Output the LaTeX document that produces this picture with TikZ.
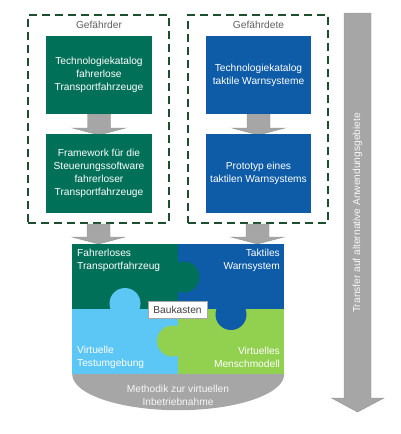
\documentclass[tikz,border=0pt]{standalone}
\usepackage{fontspec}
\setmainfont{Liberation Sans}
\usetikzlibrary{calc}
\definecolor{dgreen}{RGB}{0,112,88}
\definecolor{dblue}{RGB}{14,92,168}
\definecolor{lblue}{RGB}{92,198,245}
\definecolor{lgreen}{RGB}{146,208,80}
\definecolor{agray}{RGB}{166,166,166}
\definecolor{aedge}{RGB}{140,150,140}
\definecolor{dashgreen}{RGB}{30,78,48}
\definecolor{labgray}{RGB}{95,95,95}
\newcommand{\dfont}{\fontsize{10.2}{12.8}\selectfont}
\tikzset{
  box/.style={minimum width=105.5pt, minimum height=78.5pt, inner sep=0pt, text=white, align=center, font=\dfont},
  greenbox/.style={box, fill=dgreen},
  bluebox/.style={box, fill=dblue},
  group/.style={draw=dashgreen, line width=2pt, dash pattern=on 8pt off 5pt, inner sep=0pt},
  grouplabel/.style={text=labgray, font=\dfont, inner sep=0pt},
  blockarrow/.style={fill=agray, draw=aedge, line width=0.4pt},
  piece/.style={text=white, font=\dfont, inner sep=0pt},
}
% block arrow: #1 start, #2 tip (x taken from tip)
\newcommand{\blockarrow}[2]{%
  \path[blockarrow] let \p1=(#1), \p2=(#2) in
    (\x2-11.5pt,\y1) -- (\x2+11.5pt,\y1) -- (\x2+11.5pt,\y2+7pt) -- (\x2+26.5pt,\y2+7pt)
    -- (\x2,\y2) -- (\x2-26.5pt,\y2+7pt) -- (\x2-11.5pt,\y2+7pt) -- cycle;}
\begin{document}
\begin{tikzpicture}[x=1pt,y=-1pt]
\useasboundingbox (0,0) rectangle (400,434);
% groups
\node[group, minimum width=141pt, minimum height=208pt] (grpL) at (98.5,119) {};
\node[group, minimum width=140pt, minimum height=208pt] (grpR) at (258,119) {};
\node[grouplabel] (labL) at (99,25) {Gefährder};
\node[grouplabel] (labR) at (258.5,25) {Gefährdete};
% puzzle frame
\node[minimum width=212pt, minimum height=130pt, inner sep=0pt] (pz) at (178,309) {};
% arrows between boxes
\coordinate (g1s) at (99,114);
\coordinate (g2n) at (99,135);
\coordinate (b1s) at (258.5,114);
\coordinate (b2n) at (258.5,135);
\blockarrow{g1s}{g2n}
\blockarrow{b1s}{b2n}
% boxes
\node[greenbox] (g1) at (99,75) {Technologiekatalog\\fahrerlose\\Transportfahrzeuge};
\node[greenbox, minimum height=79pt] (g2) at (99,173.5) {Framework für die\\Steuerungssoftware\\fahrerloser\\Transportfahrzeuge};
\node[bluebox] (b1) at (258.5,75) {Technologiekatalog\\taktile Warnsysteme};
\node[bluebox, minimum height=79pt] (b2) at (258.5,173.5) {Prototyp eines\\taktilen Warnsystems};
% arrows into puzzle
\coordinate (pzL) at (98.5,244);
\coordinate (pzR) at (257.5,244);
\blockarrow{grpL.south}{pzL}
\blockarrow{grpR.south}{pzR}
% bowl
\fill[agray] (pz.south east) arc[start angle=0, end angle=180, x radius=106, y radius=36] -- cycle;
\node[piece, text=white!90!agray, align=center] (bowl) at (178,395.5) {Methodik zur virtuellen\\Inbetriebnahme};
% puzzle quadrants
\fill[dgreen] (pz.north west) rectangle (pz.center);
\fill[dblue] (pz.north east) rectangle (pz.center);
\fill[lblue] (pz.south west) rectangle (pz.center);
\fill[lgreen] (pz.south east) rectangle (pz.center);
% tabs
\fill[dgreen] (184,277) circle[radius=15.5];
\fill[lblue] (125,303.5) circle[radius=15.5];
\fill[dblue] (231,314.5) circle[radius=15.5];
\fill[lgreen] (172.5,341) circle[radius=15.5];
% puzzle texts
\node[piece, anchor=west, align=left] (p1) at (77,260.5) {Fahrerloses\\Transportfahrzeug};
\node[piece, anchor=east, align=right] (p2) at (280,260.5) {Taktiles\\Warnsystem};
\node[piece, anchor=west, align=left] (p3) at (77,357.5) {Virtuelle\\Testumgebung};
\node[piece, anchor=east, align=right] (p4) at (280,357.5) {Virtuelles\\Menschmodell};
\node[draw=gray!70, fill=white, text=black!75, font=\dfont, minimum width=59pt, minimum height=17pt, inner sep=0pt] (bk) at (177.5,309.5) {Baukasten};
% transfer arrow
\coordinate (vtop) at (357.5,13);
\coordinate (vtip) at (357.5,412);
\path[blockarrow] let \p1=(vtop), \p2=(vtip) in
  (\x2-13.5pt,\y1) -- (\x2+13.5pt,\y1) -- (\x2+13.5pt,\y2+14pt) -- (\x2+26.5pt,\y2+14pt)
  -- (\x2,\y2) -- (\x2-26pt,\y2+14pt) -- (\x2-13.5pt,\y2+14pt) -- cycle;
\node[piece, text=white!92!agray, rotate=90] (vt) at (357.5,213) {Transfer auf alternative Anwendungsgebiete};
\end{tikzpicture}
\end{document}
